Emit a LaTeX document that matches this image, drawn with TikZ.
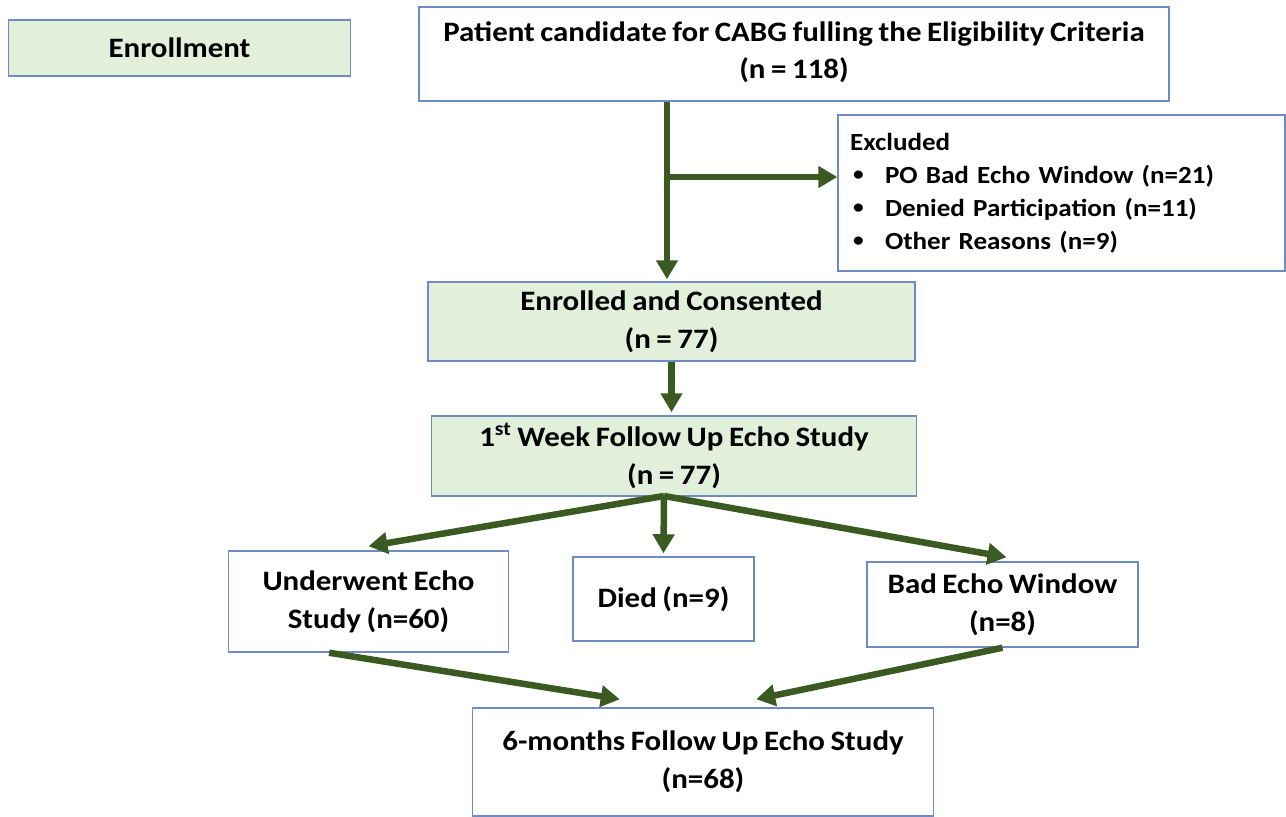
\documentclass[tikz,border=0pt]{standalone}
\usepackage{fontspec}
\setmainfont{Carlito}[FakeStretch=1.1,WordSpace=0.8]
\usetikzlibrary{arrows.meta,calc}

\begin{document}
\begin{tikzpicture}[x=0.02cm,y=-0.02cm,
  mybox/.style={draw=boxblue,line width=0.85pt,fill=white,align=center,inner sep=0pt,
    font=\fontsize{16}{21.5}\selectfont\bfseries},
  greenbox/.style={mybox,fill=palegreen},
  flow/.style={draw=arrowgreen,line width=3.7pt,-{Triangle[length=0.38cm,width=0.42cm]}}]
\definecolor{boxblue}{HTML}{6E8BC6}
\definecolor{palegreen}{HTML}{E2EFDA}
\definecolor{arrowgreen}{HTML}{3B5A22}
\newcommand{\smallbullet}{\hspace*{0.06cm}\makebox[0.64cm][l]{\raisebox{1.6pt}{\fontsize{11}{11}\selectfont\textbullet}}}
\useasboundingbox (0,0) rectangle (1286,817);
\node [greenbox,minimum width=6.84cm,minimum height=1.12cm] (enroll) at (179.5,48) {Enrollment};
\node [mybox,minimum width=15cm,minimum height=1.88cm] (patient) at (794,54)
  {Patient candidate for CABG fulling the Eligibility Criteria\\(n = 118)\\[-17pt]\mbox{}};
\node [mybox,minimum width=8.94cm,minimum height=3.12cm,align=left,text width=8.46cm,
  inner xsep=0.24cm,font=\fontsize{14}{18.7}\selectfont\bfseries] (excl) at (1061.5,193)
  {Excluded\\
   \smallbullet PO Bad Echo Window (n=21)\\
   \smallbullet Denied Participation (n=11)\\
   \smallbullet Other Reasons (n=9)};
\node [greenbox,minimum width=9.74cm,minimum height=1.58cm] (enrolled) at (671.5,321.5)
  {Enrolled and Consented\\(n = 77)};
\node [greenbox,minimum width=9.7cm,minimum height=1.6cm] (week) at (674,456)
  {1\textsuperscript{st} Week Follow Up Echo Study\\(n = 77)};
\node [mybox,minimum width=5.6cm,minimum height=2.02cm] (under) at (368.5,601.5)
  {Underwent Echo\\Study (n=60)};
\node [mybox,minimum width=3.62cm,minimum height=1.68cm] (died) at (663.5,599) {Died (n=9)};
\node [mybox,minimum width=5.42cm,minimum height=1.7cm] (badecho) at (1002.5,604.5)
  {Bad Echo Window\\(n=8)};
\node [mybox,minimum width=9.22cm,minimum height=2.16cm] (sixm) at (703,762)
  {6-months Follow Up Echo Study\\(n=68)};

% arrows
\coordinate (split) at (667,177);
\coordinate (fork) at (664,496);
\draw [flow] (patient.south -| split) -- ($(enrolled.north -| split)+(0,-2)$);
\draw [flow] ([xshift=-1.8pt]split) -- (excl.west |- split);
\draw [flow] (enrolled.south) -- ($(enrolled.south |- week.north)+(0,-3)$);
\draw [flow] (fork) -- ($(under.north)+(0,-4)$);
\draw [flow] (fork) -- ($(died.north)+(0,-3)$);
\draw [flow] (fork) -- ($(badecho.north)+(4,-4)$);
\draw [flow] ($(under.south west)!0.36!(under.south east)$) -- ($(sixm.north west)!0.32!(sixm.north east)+(0,-8)$);
\draw [flow] (badecho.south) -- ($(sixm.north west)!0.615!(sixm.north east)+(0,-8)$);
\end{tikzpicture}
\end{document}
